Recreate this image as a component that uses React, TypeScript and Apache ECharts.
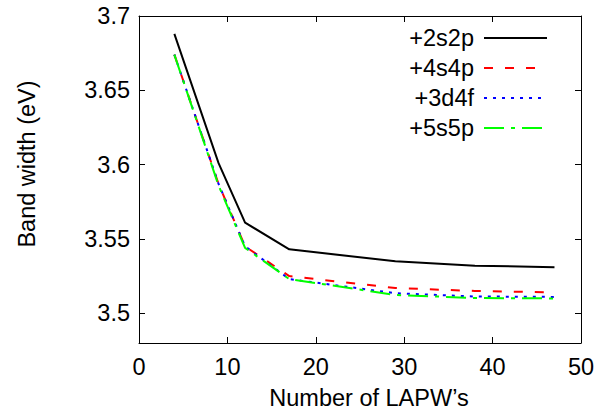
import React, { useEffect, useRef } from "react";
import * as echarts from "echarts";

const lapw = [4, 9, 12, 17, 29, 38, 47];
const s2s2p = [3.688, 3.601, 3.561, 3.543, 3.535, 3.532, 3.531];
const s4s4p = [3.674, 3.587, 3.545, 3.525, 3.517, 3.515, 3.514];
const s3d4f = [3.674, 3.587, 3.545, 3.523, 3.5135, 3.5113, 3.511];
const s5s5p = [3.674, 3.586, 3.544, 3.523, 3.5123, 3.5103, 3.51];
const seriesNames = ["+2s2p", "+4s4p", "+3d4f", "+5s5p"];
const yTicks = [3.5, 3.55, 3.6, 3.65, 3.7];
const xLabel = "Number of LAPW\u2019s";
const yLabel = "Band width (eV)";

const FONT = "Liberation Sans, Arial, sans-serif";
const FS = 23.5;

export default function App() {
  const ref = useRef<HTMLDivElement>(null);
  useEffect(() => {
    if (!ref.current) return;
    const chart = echarts.init(ref.current, null, { renderer: "svg" });
    const pair = (ys: number[]) => lapw.map((x, i) => [x, ys[i]]);
    const styles = [
      { color: "#000000", type: "solid" as any, width: 2 },
      { color: "#ff0000", type: [9, 12] as any, width: 2 },
      { color: "#0000ff", type: [3, 6] as any, width: 2 },
      { color: "#00ff00", type: [20, 7, 4, 7] as any, width: 2 },
    ];
    const datas = [s2s2p, s4s4p, s3d4f, s5s5p];
    const yFmt = (v: number) => String(Number(v.toFixed(2)));
    chart.setOption({
      animation: false,
      grid: { left: 139, top: 16, right: 31, bottom: 73, containLabel: false },
      legend: {
        orient: "vertical",
        align: "right",
        right: 59,
        top: 21,
        itemWidth: 63,
        itemHeight: 14,
        itemGap: 6,
        itemStyle: { opacity: 0 },
        textStyle: { fontSize: FS, fontFamily: FONT, color: "#000", lineHeight: 24, padding: [0, 5, 0, 0] },
        data: seriesNames,
      },
      xAxis: [
        {
          type: "value",
          min: 0,
          max: 50,
          interval: 10,
          position: "bottom",
          splitLine: { show: false },
          axisLine: { show: true, onZero: false, lineStyle: { color: "#000", width: 1 } },
          axisTick: { show: true, inside: true, length: 6, lineStyle: { color: "#000" } },
          axisLabel: { fontSize: FS, fontFamily: FONT, color: "#000", margin: 12 },
        },
        {
          type: "value",
          min: 0,
          max: 50,
          interval: 10,
          position: "top",
          splitLine: { show: false },
          axisLine: { show: true, onZero: false, lineStyle: { color: "#000", width: 1 } },
          axisTick: { show: true, inside: true, length: 6, lineStyle: { color: "#000" } },
          axisLabel: { show: false },
        },
      ],
      yAxis: [
        {
          type: "value",
          min: 3.48,
          max: 3.7,
          position: "left",
          splitLine: { show: false },
          axisLine: { show: true, onZero: false, lineStyle: { color: "#000", width: 1 } },
          axisTick: { show: true, inside: true, length: 6, customValues: yTicks, lineStyle: { color: "#000" } },
          axisLabel: { fontSize: FS, fontFamily: FONT, color: "#000", margin: 9, customValues: yTicks, formatter: yFmt },
        },
        {
          type: "value",
          min: 3.48,
          max: 3.7,
          position: "right",
          splitLine: { show: false },
          axisLine: { show: true, onZero: false, lineStyle: { color: "#000", width: 1 } },
          axisTick: { show: true, inside: true, length: 6, customValues: yTicks, lineStyle: { color: "#000" } },
          axisLabel: { show: false, customValues: yTicks },
        },
      ],
      series: datas.map((d, i) => ({
        name: seriesNames[i],
        type: "line",
        xAxisIndex: 0,
        yAxisIndex: 0,
        data: pair(d),
        symbol: "none",
        showSymbol: false,
        lineStyle: styles[i],
        itemStyle: { color: styles[i].color },
      })),
      graphic: [
        {
          type: "text",
          x: 369,
          y: 398,
          style: { text: xLabel, font: `${FS}px ${FONT}`, fill: "#000", align: "center", verticalAlign: "middle" },
        },
        {
          type: "text",
          x: 27,
          y: 164,
          rotation: Math.PI / 2,
          style: { text: yLabel, font: `${FS}px ${FONT}`, fill: "#000", align: "center", verticalAlign: "middle" },
        },
      ],
    });
    return () => chart.dispose();
  }, []);
  return <div ref={ref} style={{ position: "absolute", left: 0, top: 0, width: 612, height: 416 }} />;
}
